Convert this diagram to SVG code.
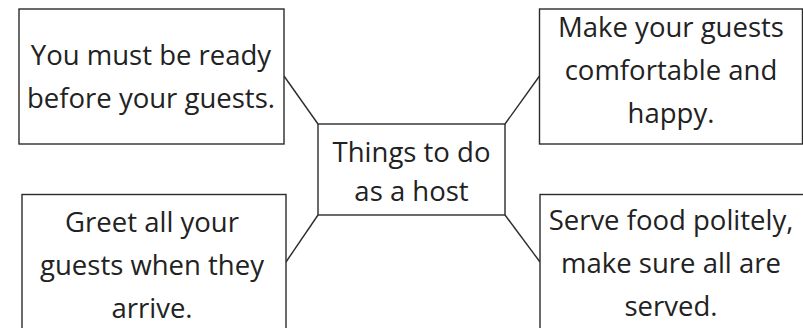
<svg xmlns="http://www.w3.org/2000/svg" width="803" height="328" viewBox="0 0 803 328">
<style>
.box{fill:#fff;stroke:#2b2b2b;stroke-width:1.4}
.ln{fill:none;stroke:#2b2b2b;stroke-width:1.4}
text{font-family:"Open Sans","Noto Sans",sans-serif;font-size:27.5px;fill:#222;text-anchor:middle}
</style>
<rect width="803" height="328" fill="#fff"/>
<g id="connectors">
<line class="ln" x1="284" y1="76" x2="318" y2="124"/>
<line class="ln" x1="505" y1="124" x2="539.5" y2="76"/>
<line class="ln" x1="318" y1="215" x2="286" y2="262"/>
<line class="ln" x1="505" y1="215" x2="540" y2="262"/>
</g>
<g id="center">
<rect class="box" x="318" y="124" width="187" height="91"/>
<text x="411.5" y="162">Things to do</text>
<text x="411.5" y="201">as a host</text>
</g>
<g id="top-left">
<rect class="box" x="19" y="9" width="265" height="135"/>
<text x="151" y="65">You must be ready</text>
<text x="151" y="108">before your guests.</text>
</g>
<g id="top-right">
<rect class="box" x="539.5" y="9" width="263" height="135"/>
<text x="671" y="37">Make your guests</text>
<text x="671" y="80">comfortable and</text>
<text x="671" y="123">happy.</text>
</g>
<g id="bottom-left">
<rect class="box" x="22" y="194.5" width="264" height="150"/>
<text x="152" y="232">Greet all your</text>
<text x="152" y="275">guests when they</text>
<text x="152" y="318">arrive.</text>
</g>
<g id="bottom-right">
<rect class="box" x="540" y="194.5" width="280" height="150"/>
<text x="671" y="230">Serve food politely,</text>
<text x="671" y="273">make sure all are</text>
<text x="671" y="316">served.</text>
</g>
</svg>
